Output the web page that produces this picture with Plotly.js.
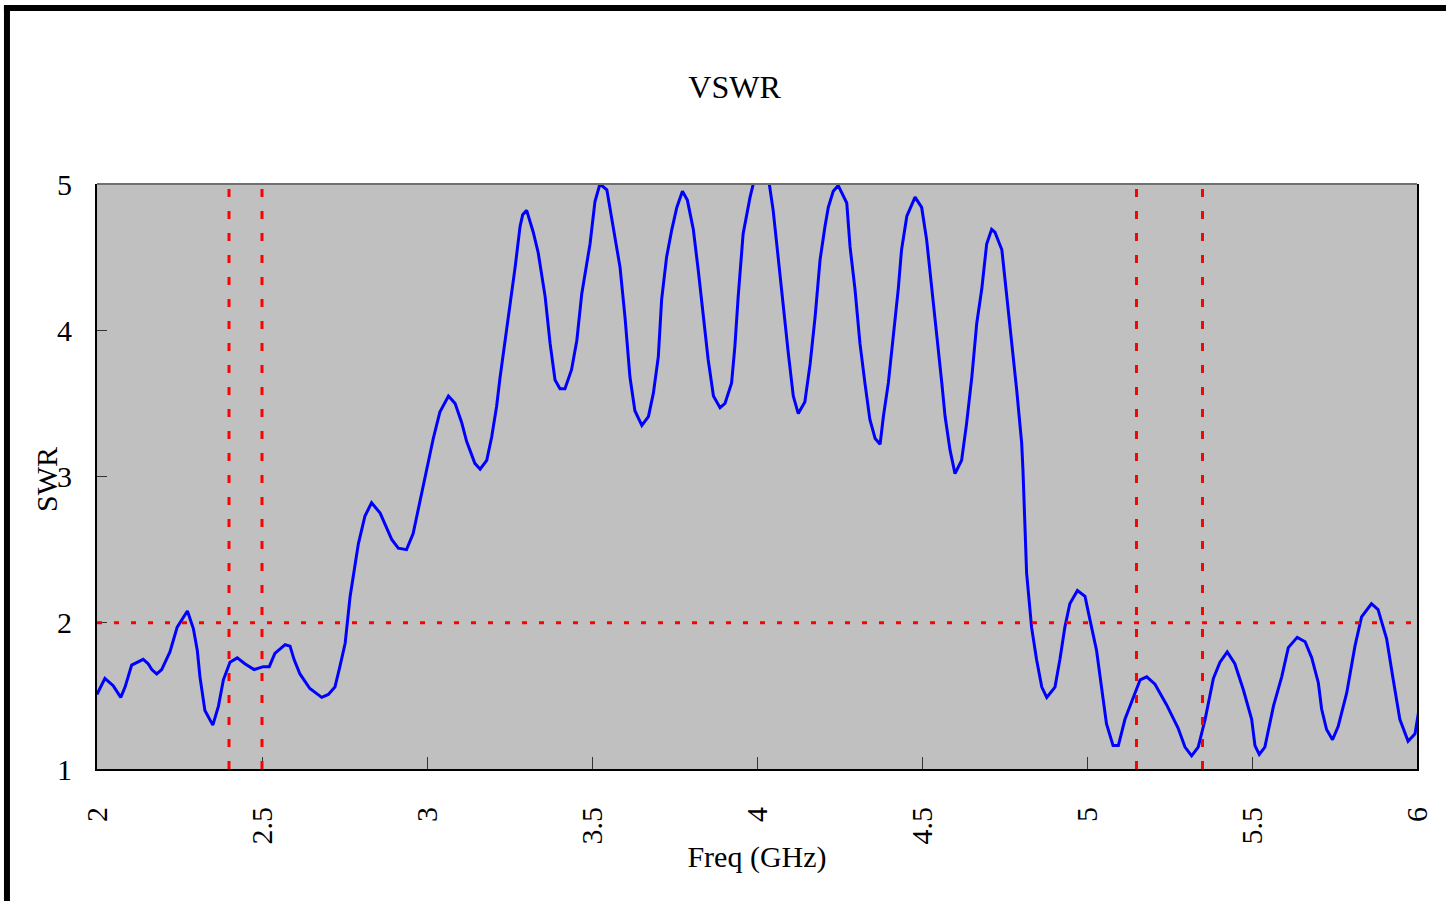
<!DOCTYPE html>
<html>
<head>
<meta charset="utf-8">
<script src="https://cdn.plot.ly/plotly-3.0.1.min.js"></script>
<style>
html,body{margin:0;padding:0;background:#fff;overflow:hidden;}
#chart{width:1446px;height:901px;}
</style>
</head>
<body>
<div id="chart"></div>
<script>
// Frequency (GHz) sampled along the measured curve
const freq = [
2.000,2.024,2.049,2.072,2.085,2.105,2.140,2.155,2.166,2.181,2.196,2.221,2.243,2.274,2.292,2.304,2.312,2.327,2.351,2.368,
2.383,2.403,2.425,2.448,2.476,2.504,2.522,2.539,2.570,2.585,2.597,2.615,2.645,2.681,2.701,2.721,2.736,2.752,2.767,2.792,
2.812,2.832,2.858,2.893,2.913,2.938,2.958,2.974,2.994,3.019,3.039,3.065,3.085,3.105,3.120,3.145,3.161,3.181,3.196,3.211,
3.221,3.252,3.267,3.282,3.290,3.302,3.322,3.337,3.358,3.373,3.388,3.403,3.418,3.438,3.454,3.469,3.494,3.509,3.524,3.545,
3.555,3.570,3.585,3.600,3.615,3.630,3.651,3.671,3.686,3.701,3.711,3.726,3.742,3.757,3.774,3.789,3.807,3.822,3.837,3.852,
3.868,3.888,3.903,3.923,3.933,3.943,3.958,3.979,3.994,4.009,4.034,4.049,4.065,4.075,4.085,4.095,4.110,4.125,4.145,4.161,
4.176,4.191,4.206,4.216,4.231,4.246,4.272,4.282,4.297,4.312,4.327,4.342,4.358,4.373,4.383,4.398,4.413,4.428,4.438,4.454,
4.479,4.499,4.514,4.529,4.545,4.560,4.570,4.585,4.600,4.620,4.635,4.651,4.666,4.681,4.696,4.711,4.721,4.742,4.757,4.772,
4.787,4.802,4.806,4.808,4.817,4.832,4.847,4.863,4.878,4.903,4.918,4.933,4.948,4.971,4.994,5.009,5.029,5.044,5.059,5.079,
5.095,5.115,5.140,5.161,5.181,5.206,5.241,5.276,5.297,5.317,5.337,5.358,5.383,5.403,5.425,5.448,5.474,5.499,5.509,5.522,
5.539,5.565,5.590,5.610,5.637,5.661,5.681,5.701,5.711,5.726,5.744,5.761,5.787,5.812,5.832,5.862,5.882,5.908,5.928,5.948,
5.973,5.994,6.014
];
// Measured VSWR values
const vswr = [
1.51,1.62,1.57,1.49,1.56,1.71,1.75,1.72,1.68,1.65,1.68,1.80,1.97,2.08,1.96,1.81,1.63,1.40,1.30,1.43,
1.61,1.73,1.76,1.72,1.68,1.70,1.70,1.79,1.85,1.84,1.75,1.65,1.55,1.49,1.51,1.56,1.70,1.86,2.18,2.54,
2.73,2.82,2.75,2.57,2.51,2.50,2.61,2.78,3.01,3.26,3.44,3.55,3.50,3.37,3.24,3.09,3.05,3.11,3.27,3.48,
3.67,4.16,4.43,4.71,4.79,4.82,4.67,4.53,4.23,3.91,3.66,3.60,3.60,3.73,3.93,4.25,4.59,4.88,5.00,4.96,
4.82,4.64,4.43,4.09,3.68,3.45,3.35,3.41,3.57,3.82,4.21,4.50,4.69,4.84,4.95,4.89,4.69,4.41,4.09,3.80,
3.55,3.47,3.50,3.64,3.89,4.23,4.66,4.91,5.05,5.13,5.05,4.82,4.48,4.25,4.02,3.84,3.55,3.43,3.51,3.77,
4.09,4.48,4.71,4.84,4.95,4.99,4.87,4.57,4.28,3.91,3.64,3.39,3.26,3.22,3.41,3.64,3.96,4.28,4.55,4.78,
4.91,4.84,4.62,4.32,3.96,3.64,3.41,3.18,3.02,3.11,3.36,3.68,4.05,4.28,4.59,4.69,4.67,4.55,4.25,3.91,
3.59,3.23,3.04,2.89,2.34,1.97,1.75,1.56,1.49,1.56,1.75,1.97,2.13,2.22,2.18,2.02,1.81,1.56,1.31,1.16,
1.16,1.34,1.49,1.61,1.63,1.58,1.44,1.28,1.15,1.09,1.15,1.34,1.62,1.73,1.80,1.72,1.54,1.34,1.16,1.10,
1.15,1.43,1.63,1.83,1.90,1.87,1.76,1.59,1.41,1.27,1.20,1.29,1.52,1.84,2.04,2.13,2.09,1.89,1.61,1.34,
1.19,1.24,1.52
];
// Band edge markers (GHz) and VSWR threshold
const bandEdges = [2.4, 2.5, 5.15, 5.35];
const threshold = 2;
// Axis ticks
const xTicks = [2, 2.5, 3, 3.5, 4, 4.5, 5, 5.5, 6];
const xTickLabels = ['2', '2.5', '3', '3.5', '4', '4.5', '5', '5.5', '6'];
const yTicks = [1, 2, 3, 4, 5];
const yTickLabels = ['1', '2', '3', '4', '5'];

const FONT = '"Liberation Serif", "Times New Roman", serif';

const shapes = [];
bandEdges.forEach(f => {
  shapes.push({type:'line', xref:'x', yref:'y', x0:f, x1:f, y0:1, y1:5,
    line:{color:'#ff0000', width:3, dash:'8px,14px'}, layer:'above'});
});
shapes.push({type:'line', xref:'paper', yref:'y', x0:0, x1:1, y0:threshold, y1:threshold,
  line:{color:'#ff0000', width:3, dash:'5px,12px'}, layer:'above'});
// top border of plot area (gray)
shapes.push({type:'line', xref:'paper', yref:'paper', x0:0, x1:1, y0:1, y1:1,
  line:{color:'#707070', width:2}, layer:'above'});
// outer frame (black, left and top)
shapes.push({type:'line', xref:'paper', yref:'paper', x0:-0.0682, x1:-0.0682, y0:1.304, y1:-0.25,
  line:{color:'#000000', width:6}});
shapes.push({type:'line', xref:'paper', yref:'paper', x0:-0.0705, x1:1.03, y0:1.301, y1:1.301,
  line:{color:'#000000', width:6}});

const trace = {
  x: freq, y: vswr, type:'scatter', mode:'lines',
  line:{color:'#0000ff', width:3},
  hoverinfo:'skip'
};

const layout = {
  width:1446, height:901,
  margin:{l:97, r:29, t:184, b:132, pad:0},
  paper_bgcolor:'#ffffff',
  plot_bgcolor:'#c0c0c0',
  showlegend:false,
  title:{text:'VSWR', font:{family:FONT, size:32, color:'#000'},
    xref:'container', yref:'container', x:0.508, y:0.9034, xanchor:'center', yanchor:'middle'},
  xaxis:{
    range:[2,6], tickmode:'array', tickvals:xTicks, ticktext:xTickLabels,
    tickangle:-90, ticks:'inside', ticklen:12, tickwidth:1, tickcolor:'#333',
    showline:true, linecolor:'#000', linewidth:2, mirror:false,
    showgrid:false, zeroline:false,
    tickfont:{family:FONT, size:30, color:'#000'},
    ticklabelstandoff:24,
    title:{text:'Freq (GHz)', font:{family:FONT, size:30, color:'#000'}, standoff:2}
  },
  yaxis:{
    range:[1,5], tickmode:'array', tickvals:yTicks, ticktext:yTickLabels,
    ticks:'inside', ticklen:10, tickwidth:1, tickcolor:'#333',
    showline:true, linecolor:'#000', linewidth:2, mirror:true,
    showgrid:false, zeroline:false,
    tickfont:{family:FONT, size:30, color:'#000'},
    ticklabelstandoff:17
  },
  annotations:[{
    text:'SWR', textangle:-90, showarrow:false,
    xref:'paper', yref:'paper', x:-0.0386, y:0.494, xanchor:'center', yanchor:'middle',
    font:{family:FONT, size:30, color:'#000'}
  }],
  shapes: shapes
};

Plotly.newPlot('chart', [trace], layout, {displayModeBar:false, staticPlot:true});
</script>
</body>
</html>
